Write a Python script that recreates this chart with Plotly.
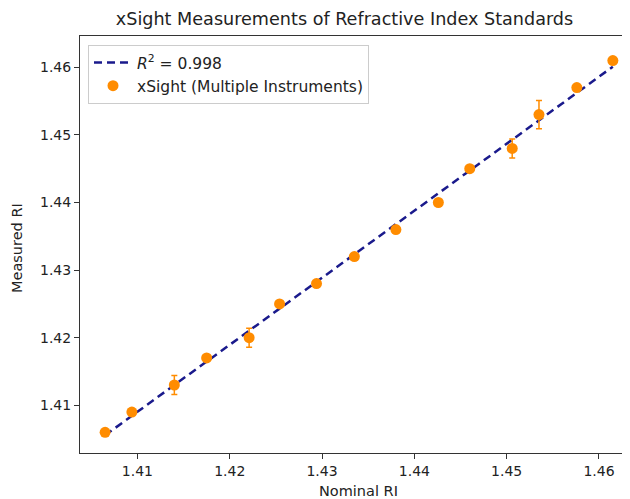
import numpy as np
import plotly.graph_objects as go

nominal_ri = [1.4065, 1.4094, 1.4140, 1.4175, 1.4221, 1.4254, 1.4294, 1.4335,
              1.4380, 1.4426, 1.4460, 1.4506, 1.4535, 1.4576, 1.4615]
measured_ri = [1.406, 1.409, 1.413, 1.417, 1.420, 1.425, 1.428, 1.432,
               1.436, 1.440, 1.445, 1.448, 1.453, 1.457, 1.461]
measured_err = [0.0004, 0.0004, 0.0014, 0.0004, 0.0014, 0.0004, 0.0004, 0.0004,
                0.0004, 0.0004, 0.0004, 0.0014, 0.0021, 0.0004, 0.0004]
r2_label = "<i>R</i><sup>2</sup> = 0.998"
series_label = "xSight (Multiple Instruments)"
x_ticks = [1.41, 1.42, 1.43, 1.44, 1.45, 1.46]
y_ticks = [1.41, 1.42, 1.43, 1.44, 1.45, 1.46]

slope, intercept = np.polyfit(nominal_ri, measured_ri, 1)
fit_x = [min(nominal_ri), max(nominal_ri)]
fit_y = [slope * v + intercept for v in fit_x]

FONT = "DejaVu Sans"
OFF = 8  # page body margin in the browser
PAGE_W, PAGE_H = 630, 499
W, H = PAGE_W - OFF, PAGE_H - OFF
# target plot area in page pixels: left 80, top 36, bottom 453, right 630
L = 80 - OFF
T = 36 - OFF
R = 0
B = H - (453 - OFF)

fig = go.Figure()
fig.add_trace(go.Scatter(
    x=fit_x, y=fit_y, mode="lines", name=r2_label,
    line=dict(color="#1a1a8c", width=2.5, dash="8px,5px"),
))
fig.add_trace(go.Scatter(
    x=nominal_ri, y=measured_ri, mode="markers", name=series_label,
    marker=dict(color="#ff8c00", size=11),
    error_y=dict(type="data", array=measured_err, visible=True,
                 color="#ff8c00", thickness=1.5, width=3),
))

axis_common = dict(
    showgrid=False, zeroline=False, showline=True, linecolor="#333",
    linewidth=1, ticks="outside", ticklen=5, tickcolor="#333",
    tickfont=dict(family=FONT, size=14, color="#222"),
)
fig.update_xaxes(range=[1.40378, 1.46336], tickvals=x_ticks,
                 ticktext=[f"{v:.2f}" for v in x_ticks], mirror=True,
                 **axis_common)
fig.update_yaxes(range=[1.40294, 1.46463], tickvals=y_ticks,
                 ticktext=[f"{v:.2f}" for v in y_ticks], mirror=False,
                 **axis_common)

pw = W - L - R
ph = H - T - B


def px_x(page_x):
    return (page_x - OFF - L) / pw


def px_y(page_y):
    return 1 - (page_y - OFF - T) / ph


fig.update_layout(
    width=W, height=H,
    margin=dict(l=L, r=R, t=T, b=B, pad=0),
    paper_bgcolor="white", plot_bgcolor="white",
    font=dict(family=FONT, size=14, color="#222"),
    title=dict(text="xSight Measurements of Refractive Index Standards",
               x=(344.5 - OFF) / W, xanchor="center", xref="container",
               y=1 - (19 - OFF) / H, yanchor="middle", yref="container",
               font=dict(family=FONT, size=17.6, color="#222")),
    showlegend=True,
    legend=dict(x=px_x(88), y=px_y(45), xanchor="left",
                yanchor="top", bgcolor="rgba(255,255,255,0.8)",
                bordercolor="#cccccc", borderwidth=1, itemwidth=38,
                font=dict(family=FONT, size=15.5, color="#222")),
    annotations=[
        dict(text="Nominal RI", x=px_x(358), y=px_y(491),
             xref="paper", yref="paper", xanchor="center", yanchor="middle",
             showarrow=False, font=dict(family=FONT, size=14.5, color="#222")),
        dict(text="Measured RI", x=px_x(17), y=px_y(248),
             xref="paper", yref="paper", xanchor="center", yanchor="middle",
             textangle=-90, showarrow=False,
             font=dict(family=FONT, size=14.5, color="#222")),
    ],
)

fig.write_html("out.html")
